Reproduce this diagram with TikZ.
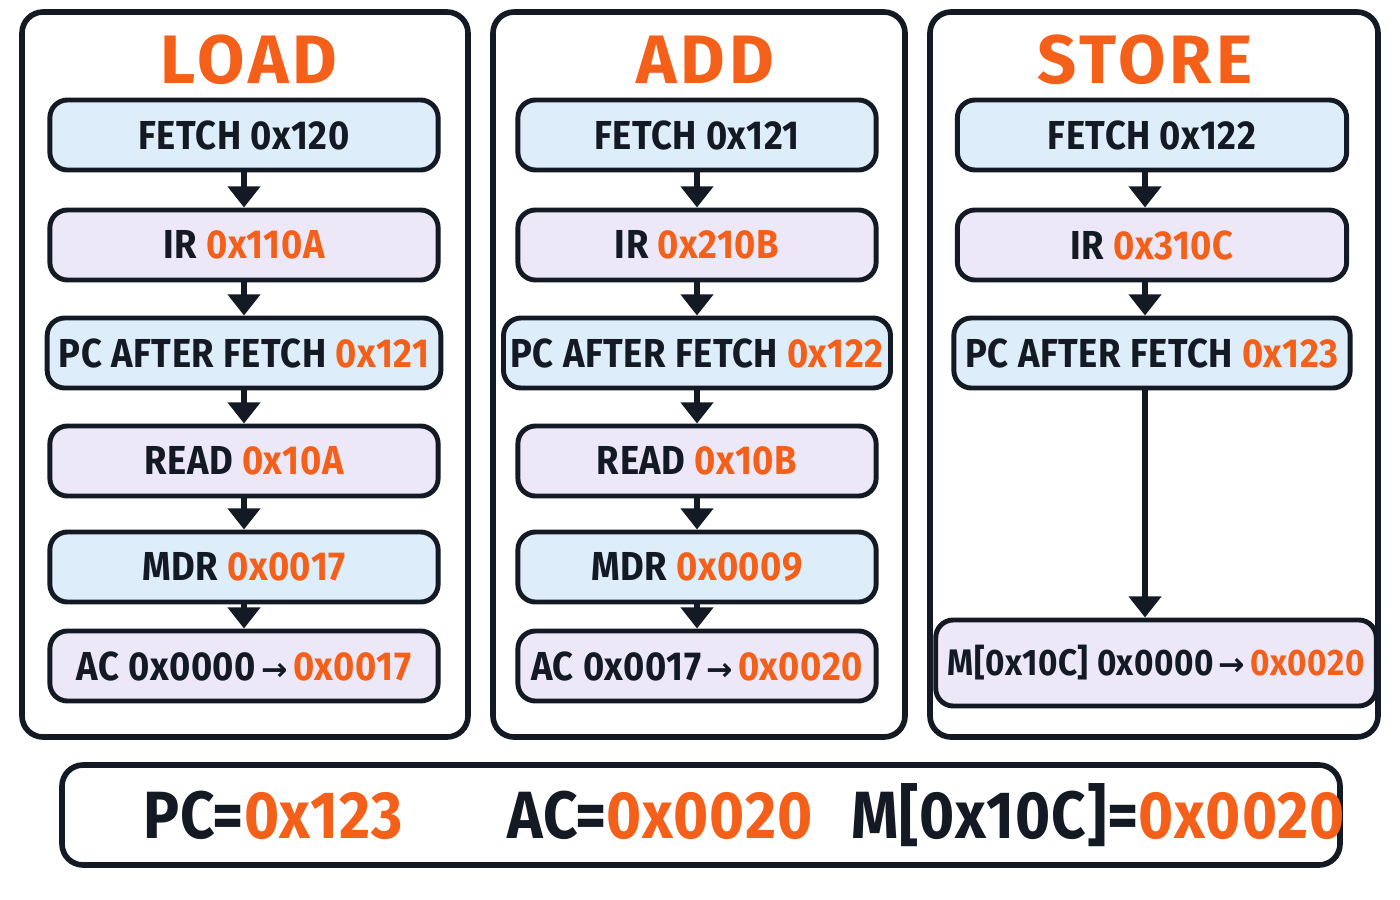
\documentclass[tikz,border=0pt]{standalone}
\usepackage{fontspec}
\setmainfont{Fira Sans}[FakeStretch=0.9, LetterSpace=1.5]
\newfontfamily\titlefont{Fira Sans}[LetterSpace=6]
\newfontfamily\arrowfont{DejaVu Sans}
\usepackage{tikz}
\usetikzlibrary{arrows.meta}
\definecolor{hot}{HTML}{F4601A}
\definecolor{ink}{HTML}{141A24}
\definecolor{bluefill}{HTML}{DDEDF9}
\definecolor{lavfill}{HTML}{ECE8F8}
\newcommand{\hx}[1]{\textcolor{hot}{#1}}
\newcommand{\goes}{{\arrowfont\small\,→\,}}

\begin{document}
\begin{tikzpicture}[x=0.01cm,y=-0.01cm,
    panel/.style={draw=ink, line width=1.6pt, rounded corners=6pt},
    stage/.style={draw=ink, line width=1.4pt, rounded corners=5pt, minimum height=0.70cm,
        text=ink, font=\fontsize{11.5}{13}\selectfont\bfseries},
    bluebox/.style={stage, fill=bluefill},
    lavbox/.style={stage, fill=lavfill},
    title/.style={text=hot, font=\titlefont\fontsize{19.5}{22}\selectfont\bfseries},
    flow/.style={draw=ink, line width=1.8pt, -{Triangle[length=6pt,width=9pt]}}]
    \useasboundingbox (0,0) rectangle (1400,900);
    % columns
    \draw[panel] (22,12) rectangle (468,737);
    \draw[panel] (493,12) rectangle (905,737);
    \draw[panel] (930,12) rectangle (1378,737);
    \node[title] (tload) at (249,60) {LOAD};
    \node[title] (tadd) at (705,60) {ADD};
    \node[title] (tstore) at (1145,60) {STORE};
    % LOAD
    \node[bluebox, minimum width=3.88cm] (l1) at (244,135) {FETCH 0x120};
    \node[lavbox, minimum width=3.88cm] (l2) at (244,245) {IR \hx{0x110A}};
    \node[bluebox, minimum width=3.88cm] (l3) at (244,353) {PC AFTER FETCH \hx{0x121}};
    \node[lavbox, minimum width=3.88cm] (l4) at (244,461) {READ \hx{0x10A}};
    \node[bluebox, minimum width=3.88cm] (l5) at (244,567) {MDR \hx{0x0017}};
    \node[lavbox, minimum width=3.88cm] (l6) at (244,666) {AC 0x0000\goes\hx{0x0017}};
    % ADD
    \node[bluebox, minimum width=3.58cm] (a1) at (697,135) {FETCH 0x121};
    \node[lavbox, minimum width=3.58cm] (a2) at (697,245) {IR \hx{0x210B}};
    \node[bluebox, minimum width=3.58cm, inner sep=2pt] (a3) at (697,353) {PC AFTER FETCH \hx{0x122}};
    \node[lavbox, minimum width=3.58cm] (a4) at (697,461) {READ \hx{0x10B}};
    \node[bluebox, minimum width=3.58cm] (a5) at (697,567) {MDR \hx{0x0009}};
    \node[lavbox, minimum width=3.58cm] (a6) at (697,666) {AC 0x0017\goes\hx{0x0020}};
    % STORE
    \node[bluebox, minimum width=3.89cm] (s1) at (1152,135) {FETCH 0x122};
    \node[lavbox, minimum width=3.89cm] (s2) at (1152,245) {IR \hx{0x310C}};
    \node[bluebox, minimum width=3.89cm] (s3) at (1152,353) {PC AFTER FETCH \hx{0x123}};
    \node[lavbox, minimum width=4.02cm, minimum height=0.86cm,
        font=\fontsize{10.5}{12}\selectfont\bfseries] (s4) at (1156,663) {M[0x10C] 0x0000\goes\hx{0x0020}};
    \draw[flow] (l1) -- (l2);
    \draw[flow] (l2) -- (l3);
    \draw[flow] (l3) -- (l4);
    \draw[flow] (l4) -- (l5);
    \draw[flow] (l5) -- (l6);
    \draw[flow] (a1) -- (a2);
    \draw[flow] (a2) -- (a3);
    \draw[flow] (a3) -- (a4);
    \draw[flow] (a4) -- (a5);
    \draw[flow] (a5) -- (a6);
    \draw[flow] (s1.south -| 1145,0) -- (s2.north -| 1145,0);
    \draw[flow] (s2.south -| 1145,0) -- (s3.north -| 1145,0);
    \draw[flow] (s3.south -| 1145,0) -- (s4.north -| 1145,0);
    % totals
    \draw[panel] (62,765) rectangle (1340,865);
    \node[text=ink, font=\fontsize{19}{22}\selectfont\bfseries] (pc) at (273,815) {PC=\hx{0x123}};
    \node[text=ink, font=\fontsize{19}{22}\selectfont\bfseries] (ac) at (660,815) {AC=\hx{0x0020}};
    \node[text=ink, font=\fontsize{19}{22}\selectfont\bfseries] (mem) at (1098,815) {M[0x10C]=\hx{0x0020}};
\end{tikzpicture}
\end{document}
